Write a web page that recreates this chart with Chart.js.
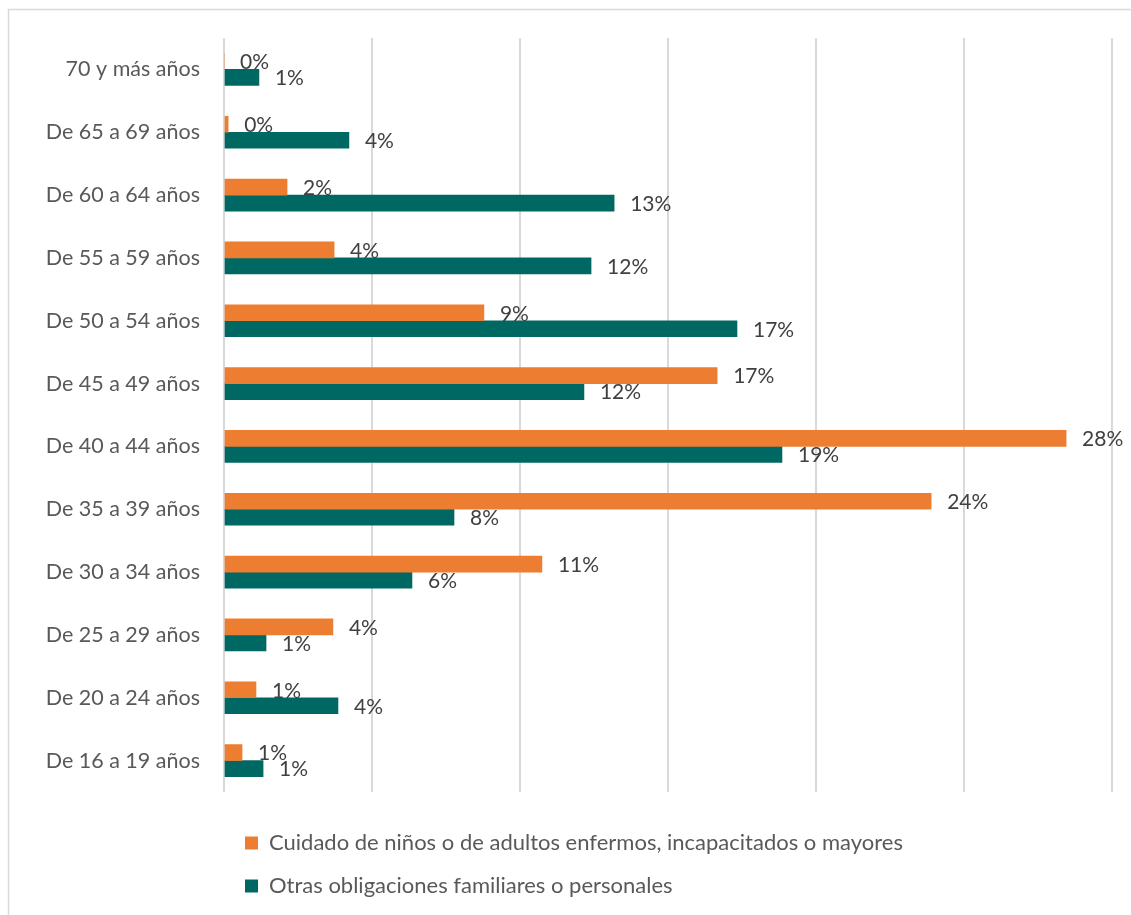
<!DOCTYPE html>
<html>
<head>
<meta charset="utf-8">
<script src="https://cdn.jsdelivr.net/npm/chart.js@4.4.1/dist/chart.umd.min.js"></script>
<style>
  html, body { margin: 0; padding: 0; background: #ffffff; }
  #wrap { position: relative; width: 1131px; height: 915px; overflow: hidden; }
  canvas { position: absolute; left: 0; top: 0; }
</style>
</head>
<body>
<div id="wrap"><canvas id="c" width="1131" height="915"></canvas></div>
<script>
const categories = [
  "70 y más años",
  "De 65 a 69 años",
  "De 60 a 64 años",
  "De 55 a 59 años",
  "De 50 a 54 años",
  "De 45 a 49 años",
  "De 40 a 44 años",
  "De 35 a 39 años",
  "De 30 a 34 años",
  "De 25 a 29 años",
  "De 20 a 24 años",
  "De 16 a 19 años"
];
const seriesNames = [
  "Cuidado de niños o de adultos enfermos, incapacitados o mayores",
  "Otras obligaciones familiares o personales"
];
const cuidadoValues = [0, 0.14, 2.13, 3.72, 8.78, 16.66, 28.45, 23.89, 10.74, 3.68, 1.08, 0.61];
const otrasValues = [1.18, 4.22, 13.18, 12.40, 17.33, 12.16, 18.85, 7.77, 6.35, 1.42, 3.85, 1.32];
const xMax = 30;
const xStep = 5;

const FONT = "Lato, 'Open Sans', sans-serif";

const framePlugin = {
  id: 'frame',
  beforeDraw(chart) {
    const ctx = chart.ctx;
    ctx.save();
    ctx.strokeStyle = '#d9d9d9';
    ctx.lineWidth = 1.5;
    ctx.beginPath();
    ctx.moveTo(8.5, 2000);
    ctx.lineTo(8.5, 9.5);
    ctx.lineTo(2000, 9.5);
    ctx.stroke();
    ctx.restore();
  }
};

const valueLabelPlugin = {
  id: 'valueLabels',
  afterDatasetsDraw(chart) {
    const ctx = chart.ctx;
    ctx.save();
    ctx.font = '21px ' + FONT;
    ctx.fillStyle = '#404040';
    ctx.textAlign = 'left';
    ctx.textBaseline = 'middle';
    chart.data.datasets.forEach((ds, di) => {
      const meta = chart.getDatasetMeta(di);
      meta.data.forEach((bar, i) => {
        const v = ds.data[i];
        ctx.fillText(Math.round(v) + '%', bar.x + 16, bar.y + 1);
      });
    });
    ctx.restore();
  }
};

new Chart(document.getElementById('c'), {
  type: 'bar',
  data: {
    labels: categories,
    datasets: [
      { label: seriesNames[0], data: cuidadoValues, backgroundColor: '#ED7D31', borderWidth: 0, barThickness: 16 },
      { label: seriesNames[1], data: otrasValues, backgroundColor: '#006862', borderWidth: 0, barThickness: 16 }
    ]
  },
  options: {
    indexAxis: 'y',
    responsive: false,
    animation: false,
    layout: { padding: { top: 38, right: 19, bottom: 8, left: 0 } },
    scales: {
      x: {
        min: 0, max: xMax,
        ticks: { display: false, stepSize: xStep },
        grid: { color: '#d9d9d9', lineWidth: 2, drawTicks: false },
        border: { display: false },
        afterFit(s) { s.height = 19; }
      },
      y: {
        grid: { display: false, drawTicks: false },
        border: { display: false },
        ticks: { color: '#595959', font: { family: FONT, size: 21.5 }, padding: 24 },
        afterFit(s) { s.width = 224; }
      }
    },
    plugins: {
      legend: {
        position: 'bottom',
        align: 'start',
        fullSize: false,
        labels: {
          boxWidth: 13, boxHeight: 13, padding: 21,
          color: '#595959',
          font: { family: FONT, size: 22 }
        }
      },
      tooltip: { enabled: false }
    }
  },
  plugins: [framePlugin, valueLabelPlugin]
});
</script>
</body>
</html>
